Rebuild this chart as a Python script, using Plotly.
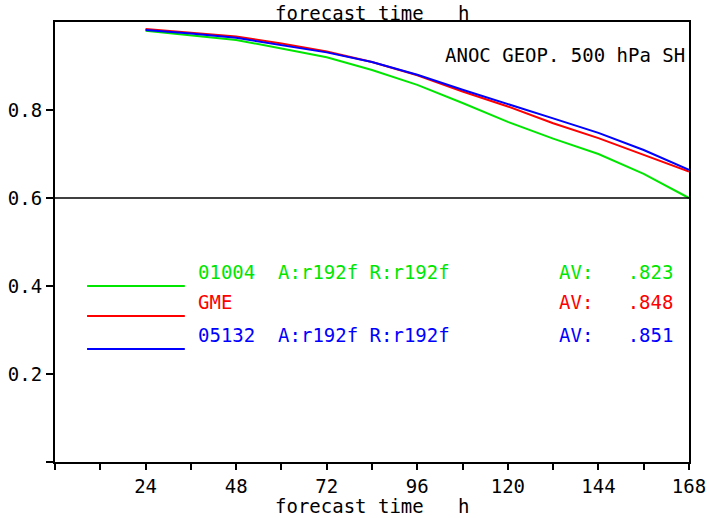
import plotly.graph_objects as go

hours = [24, 36, 48, 60, 72, 84, 96, 108, 120, 132, 144, 156, 168]
green_01004 = [0.980, 0.970, 0.959, 0.940, 0.920, 0.891, 0.857, 0.816, 0.773, 0.735, 0.700, 0.655, 0.600]
red_gme = [0.984, 0.976, 0.967, 0.951, 0.933, 0.909, 0.879, 0.842, 0.808, 0.770, 0.736, 0.698, 0.660]
blue_05132 = [0.982, 0.974, 0.964, 0.948, 0.931, 0.909, 0.880, 0.846, 0.814, 0.781, 0.748, 0.709, 0.664]

series_names = ["01004  A:r192f R:r192f", "GME", "05132  A:r192f R:r192f"]
series_av = ["AV:   .823", "AV:   .848", "AV:   .851"]
series_colors = ["#00e600", "#ff0000", "#0000ff"]
series_values = [green_01004, red_gme, blue_05132]

x_ticks = list(range(0, 169, 12))
x_ticktext = [str(h) if (h % 24 == 0 and h > 0) else "" for h in x_ticks]
y_ticks = [0, 0.2, 0.4, 0.6, 0.8]
y_ticktext = ["", "0.2", "0.4", "0.6", "0.8"]

title_text = "ANOC GEOP. 500 hPa SH"
axis_title = "forecast time   h"

FONT = "DejaVu Sans Mono"
NB = lambda s: s.replace(" ", "\u00a0")

fig = go.Figure()
for vals, col, name in zip(series_values, series_colors, series_names):
    fig.add_trace(go.Scatter(x=hours, y=vals, mode="lines", name=name,
                             line=dict(color=col, width=2), showlegend=False))

# reference line at 0.6
fig.add_shape(type="line", xref="paper", yref="y", x0=0, x1=1, y0=0.6, y1=0.6,
              line=dict(color="black", width=1.5))

# custom legend
leg_y = [0.40, 0.332, 0.257]
for yv, col, name, av in zip(leg_y, series_colors, series_names, series_av):
    fig.add_shape(type="line", xref="x", yref="y", x0=8.5, x1=34.4, y0=yv, y1=yv,
                  line=dict(color=col, width=2))
    fig.add_annotation(x=37.4, y=yv, xref="x", yref="y", text=NB(name), showarrow=False,
                       xanchor="left", yanchor="bottom", yshift=1,
                       font=dict(family=FONT, size=19, color=col))
    fig.add_annotation(x=133.0, y=yv, xref="x", yref="y", text=NB(av), showarrow=False,
                       xanchor="left", yanchor="bottom", yshift=1,
                       font=dict(family=FONT, size=19, color=col))

fig.add_annotation(x=1, y=1, xref="paper", yref="paper", text=NB(title_text), showarrow=False,
                   xanchor="right", yanchor="top", yshift=-20, xshift=-2,
                   font=dict(family=FONT, size=19, color="black"))
fig.add_annotation(x=0.5, y=1, xref="paper", yref="paper", text=NB(axis_title), showarrow=False,
                   xanchor="center", yanchor="bottom", yshift=-4,
                   font=dict(family=FONT, size=19, color="black"))
fig.add_annotation(x=0.5, y=0, xref="paper", yref="paper", text=NB(axis_title), showarrow=False,
                   xanchor="center", yanchor="middle", yshift=-44,
                   font=dict(family=FONT, size=19, color="black"))

fig.update_layout(
    width=709, height=518,
    margin=dict(l=55, r=20, t=22, b=56, autoexpand=False),
    paper_bgcolor="white", plot_bgcolor="white",
    font=dict(family=FONT, size=19, color="black"),
    xaxis=dict(range=[0, 168], tickvals=x_ticks, ticktext=x_ticktext, automargin=False,
               showgrid=False, zeroline=False, showline=True, linecolor="black",
               linewidth=2, mirror=True, ticks="outside", ticklen=6, tickwidth=1.5,
               tickcolor="black", tickfont=dict(family=FONT, size=19)),
    yaxis=dict(range=[0, 1], tickvals=y_ticks, ticktext=y_ticktext, automargin=False,
               showgrid=False, zeroline=False, showline=True, linecolor="black",
               linewidth=2, mirror=True, ticks="outside", ticklen=7, tickwidth=1.5,
               tickcolor="black", tickfont=dict(family=FONT, size=19)),
)

fig.write_html("out.html", config={"displayModeBar": False},
               post_script="document.body.style.margin='0';document.body.style.overflow='hidden';")
